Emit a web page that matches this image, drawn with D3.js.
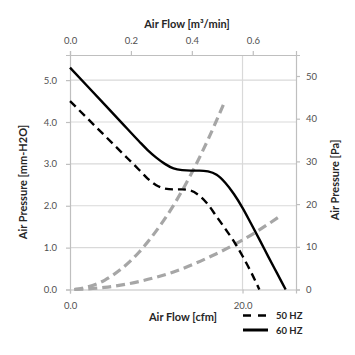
<!DOCTYPE html>
<html><head><meta charset="utf-8">
<script src="https://cdn.jsdelivr.net/npm/d3@7"></script>
<style>body{margin:0;background:#fff}svg{display:block}text{font-family:Lato,"Open Sans",sans-serif}</style>
</head><body><div id="c"></div>
<script>
// ---- data ----
const cfm60 = [0, 2, 4, 6, 8, 9, 10, 11, 12, 13, 14, 15, 16, 17, 18, 19, 20, 21, 22, 23, 24, 25];
const mm60  = [5.30, 4.86, 4.42, 3.98, 3.54, 3.33, 3.15, 3.00, 2.89, 2.85, 2.84, 2.84, 2.82, 2.74, 2.55, 2.28, 1.95, 1.57, 1.18, 0.78, 0.39, 0.0];
const cfm50 = [0, 2, 4, 6, 8, 9, 10, 11, 12, 13, 14, 15, 16, 17, 18, 19, 20, 21, 21.95];
const mm50  = [4.50, 4.09, 3.68, 3.27, 2.86, 2.65, 2.49, 2.41, 2.39, 2.39, 2.36, 2.24, 2.03, 1.74, 1.45, 1.15, 0.80, 0.41, 0.0];
const cfmSysA = [0.5, 2, 4, 6, 8, 10, 12, 14, 16, 18];
const mmSysA  = [0.0, 0.06, 0.22, 0.50, 0.89, 1.40, 2.01, 2.74, 3.58, 4.52];
const cfmSysB = [0.5, 4, 8, 12, 16, 20, 24.35];
const mmSysB  = [0.0, 0.05, 0.19, 0.42, 0.76, 1.18, 1.75];
const mmTicks  = [0, 1, 2, 3, 4, 5];
const paTicks  = [0, 10, 20, 30, 40, 50];
const cfmTicks = [0, 20];
const m3Ticks  = [0, 0.2, 0.4, 0.6];
const legendNames = ["50 HZ", "60 HZ"];
const CFM_TO_M3 = 0.0283168, MM_TO_PA = 9.80665;

const W = 355, H = 355;
const m = {l: 70, r: 59, t: 55, b: 65.5};
const svg = d3.select("#c").append("svg").attr("width", W).attr("height", H);
const xMax = 26.2, yMax = 5.6;
const x = d3.scaleLinear().domain([0, xMax]).range([m.l, W - m.r]);
const y = d3.scaleLinear().domain([0, yMax]).range([H - m.b, m.t]);
const xTop = d3.scaleLinear().domain([0, xMax * CFM_TO_M3]).range([m.l, W - m.r]);
const yR = d3.scaleLinear().domain([0, yMax * MM_TO_PA]).range([H - m.b, m.t]);

const gridC = "#d9d9d9", axisC = "#bfbfbf", txtC = "#505050", titleC = "#262626";
// gridlines
svg.append("g").selectAll("line").data(mmTicks.filter(d => d > 0)).join("line")
  .attr("x1", m.l).attr("x2", W - m.r).attr("y1", d => y(d)).attr("y2", d => y(d))
  .attr("stroke", gridC).attr("stroke-width", 1.2);
svg.append("g").selectAll("line").data(cfmTicks.filter(d => d > 0)).join("line")
  .attr("x1", d => x(d)).attr("x2", d => x(d)).attr("y1", m.t).attr("y2", H - m.b)
  .attr("stroke", gridC).attr("stroke-width", 1.2);

function styleAxis(g) {
  g.select(".domain").attr("stroke", axisC).attr("stroke-width", 1.2);
  g.selectAll(".tick line").attr("stroke", axisC).attr("stroke-width", 1.2);
  g.selectAll(".tick text").attr("fill", txtC).style("font-size", "9.5px");
}
svg.append("g").attr("transform", `translate(0,${H - m.b})`)
  .call(d3.axisBottom(x).tickValues(cfmTicks).tickFormat(d3.format(".1f")).tickSizeOuter(0).tickSize(4).tickPadding(9)).call(styleAxis);
svg.append("g").attr("transform", `translate(0,${m.t})`)
  .call(d3.axisTop(xTop).tickValues(m3Ticks).tickFormat(d3.format(".1f")).tickSizeOuter(0).tickSize(4).tickPadding(7)).call(styleAxis);
svg.append("g").attr("transform", `translate(${m.l},0)`)
  .call(d3.axisLeft(y).tickValues(mmTicks).tickFormat(d3.format(".1f")).tickSizeOuter(0).tickSize(4).tickPadding(9)).call(styleAxis);
svg.append("g").attr("transform", `translate(${W - m.r},0)`)
  .call(d3.axisRight(yR).tickValues(paTicks).tickFormat(d3.format("d")).tickSizeOuter(0).tickSize(4).tickPadding(6)).call(styleAxis);

// curves
const line = d3.line().x(d => x(d[0])).y(d => y(d[1])).curve(d3.curveMonotoneX);
const zip = (a, b) => a.map((v, i) => [v, b[i]]);
const grey = "#a6a6a6";
svg.append("path").datum(zip(cfmSysA, mmSysA)).attr("d", line)
  .attr("fill", "none").attr("stroke", grey).attr("stroke-width", 3.2).attr("stroke-dasharray", "9,5");
svg.append("path").datum(zip(cfmSysB, mmSysB)).attr("d", line)
  .attr("fill", "none").attr("stroke", grey).attr("stroke-width", 3.2).attr("stroke-dasharray", "9,5");
svg.append("path").datum(zip(cfm50, mm50)).attr("d", line)
  .attr("fill", "none").attr("stroke", "#000").attr("stroke-width", 2.4).attr("stroke-dasharray", "8,5");
svg.append("path").datum(zip(cfm60, mm60)).attr("d", line)
  .attr("fill", "none").attr("stroke", "#000").attr("stroke-width", 2.4);

// titles
svg.append("text").attr("x", 183).attr("y", 321).attr("text-anchor", "middle")
  .attr("font-weight", "bold").attr("fill", titleC).style("font-size", "11px").text("Air Flow [cfm]");
svg.append("text").attr("x", 187).attr("y", 28).attr("text-anchor", "middle")
  .attr("font-weight", "bold").attr("fill", titleC).style("font-size", "11px").text("Air Flow [m³/min]");
svg.append("text").attr("transform", "translate(27,182) rotate(-90)").attr("text-anchor", "middle")
  .attr("font-weight", "bold").attr("fill", titleC).style("font-size", "11px").text("Air Pressure [mm-H2O]");
svg.append("text").attr("transform", "translate(339,180) rotate(-90)").attr("text-anchor", "middle")
  .attr("font-weight", "bold").attr("fill", titleC).style("font-size", "11px").text("Air Pressure [Pa]");

// legend
const lg = svg.append("g");
legendNames.forEach((n, i) => {
  const ly = 315.5 + i * 14.5;
  lg.append("line").attr("x1", 243).attr("x2", 268).attr("y1", ly).attr("y2", ly)
    .attr("stroke", "#000").attr("stroke-width", i === 0 ? 2.4 : 3)
    .attr("stroke-dasharray", i === 0 ? "8,7" : null);
  lg.append("text").attr("x", 276).attr("y", ly + 3.5).attr("font-weight", "bold")
    .attr("fill", titleC).style("font-size", "9.5px").text(n);
});
</script></body></html>
